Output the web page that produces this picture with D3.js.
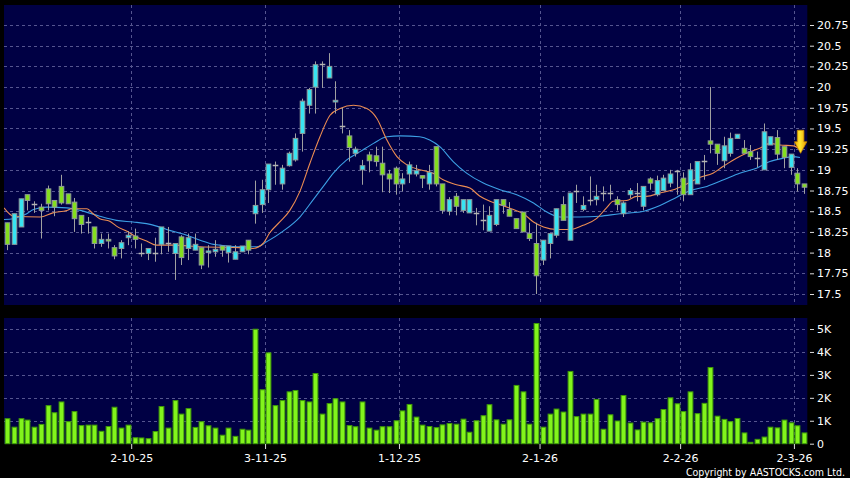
<!DOCTYPE html>
<html><head><meta charset="utf-8">
<script src="https://cdn.jsdelivr.net/npm/d3@7"></script>
<style>html,body{margin:0;padding:0;background:#000;}svg{display:block}</style>
</head><body>
<svg id="c" width="850" height="478"></svg>
<script>
// ---- data ----
const open  = [18.36,18.10,18.31,18.70,18.59,18.55,18.77,18.63,18.80,18.71,18.61,18.45,18.37,18.31,18.11,18.16,18.06,18.05,18.18,18.20,
18.00,17.99,18.00,18.10,18.12,17.99,18.19,18.05,18.03,18.06,18.00,18.01,18.08,18.00,17.92,18.01,18.15,18.47,18.58,18.76,
19.06,18.83,19.05,19.12,19.44,19.78,20.00,20.28,20.11,19.82,19.53,19.41,19.20,19.00,19.18,19.17,19.08,18.95,19.02,18.83,
18.95,18.95,18.93,18.83,19.28,18.83,18.50,18.68,18.51,18.48,18.48,18.39,18.26,18.34,18.64,18.52,18.41,18.49,18.23,18.11,
17.91,18.11,18.21,18.58,18.15,18.75,18.52,18.64,18.64,18.72,18.72,18.64,18.47,18.70,18.72,18.56,18.89,18.70,18.75,18.84,
18.99,18.90,18.70,18.83,19.11,19.35,19.31,19.11,19.20,19.38,19.26,19.22,19.14,19.00,19.30,19.39,19.28,19.03,18.96,18.83];
const high  = [18.36,18.47,18.65,18.70,18.62,18.59,18.81,18.63,18.94,18.71,18.66,18.45,18.43,18.31,18.23,18.23,18.09,18.15,18.26,18.29,
18.11,18.05,18.18,18.31,18.31,18.11,18.21,18.23,18.23,18.06,18.09,18.15,18.08,18.08,18.09,18.08,18.15,18.87,18.88,19.07,
19.10,19.06,19.22,19.44,19.86,19.99,20.31,20.31,20.41,20.07,19.75,19.48,19.28,19.12,19.22,19.28,19.28,19.00,19.04,18.96,
19.10,19.06,18.93,19.06,19.28,18.83,18.67,18.72,18.64,18.64,18.54,18.58,18.56,18.64,18.64,18.61,18.41,18.49,18.36,18.36,
18.15,18.23,18.53,18.68,18.72,18.82,18.68,18.92,18.82,18.80,18.82,18.68,18.62,18.78,18.84,18.80,18.91,18.93,18.94,19.00,
19.00,18.97,19.08,19.10,19.18,20.00,19.31,19.40,19.45,19.43,19.36,19.30,19.22,19.56,19.40,19.48,19.28,19.19,19.02,18.83];
const low   = [18.03,18.10,18.31,18.51,18.48,18.17,18.51,18.44,18.58,18.59,18.25,18.23,18.23,18.05,18.07,18.05,17.92,17.93,18.09,18.05,
17.95,17.91,17.89,17.98,18.01,17.67,17.85,17.91,18.03,17.80,17.82,17.95,17.95,17.88,17.92,18.01,17.98,18.35,18.48,18.60,
18.82,18.76,19.04,19.10,19.22,19.68,19.68,19.99,20.11,19.68,19.44,19.10,19.16,18.82,18.97,19.04,18.73,18.72,18.70,18.74,
18.84,18.92,18.78,18.76,18.80,18.47,18.45,18.45,18.48,18.48,18.33,18.27,18.26,18.32,18.47,18.44,18.29,18.25,18.14,17.50,
17.85,17.93,18.18,18.39,18.15,18.60,18.50,18.57,18.57,18.62,18.64,18.51,18.43,18.66,18.62,18.51,18.76,18.68,18.75,18.79,
18.70,18.62,18.70,18.83,18.88,19.20,19.06,19.02,19.16,19.38,19.20,19.12,19.03,19.00,19.30,19.12,19.02,18.94,18.74,18.71];
const close = [18.10,18.47,18.65,18.63,18.59,18.51,18.59,18.55,18.60,18.59,18.41,18.34,18.37,18.11,18.16,18.14,17.96,18.12,18.21,18.16,
18.00,18.05,18.00,18.31,18.12,18.11,17.94,18.18,18.10,17.85,18.02,18.04,18.03,18.08,18.01,18.08,18.03,18.57,18.76,19.07,
19.06,19.02,19.20,19.38,19.83,19.97,20.27,20.28,20.25,19.84,19.53,19.27,19.25,19.05,19.11,19.10,18.94,18.89,18.83,18.89,
19.06,18.99,18.90,18.97,18.83,18.51,18.64,18.56,18.64,18.64,18.48,18.39,18.45,18.64,18.57,18.44,18.29,18.25,18.17,17.72,
18.15,18.23,18.53,18.39,18.72,18.75,18.57,18.64,18.68,18.72,18.72,18.58,18.60,18.75,18.72,18.80,18.84,18.87,18.90,18.95,
18.99,18.70,19.00,19.10,19.11,19.31,19.20,19.29,19.38,19.43,19.20,19.16,19.14,19.46,19.40,19.19,19.15,19.19,18.83,18.79];
// volume in thousands
const volume = [1.09,0.72,1.09,1.03,0.72,0.84,1.66,1.35,1.82,0.96,1.40,0.79,0.81,0.81,0.54,0.75,1.59,0.68,0.81,0.26,
0.25,0.22,0.53,1.62,0.68,1.88,1.29,1.53,0.71,0.96,0.78,0.68,0.37,0.68,0.32,0.63,0.59,4.99,2.35,3.96,
1.66,1.88,2.26,2.32,1.88,1.82,3.06,1.29,1.75,1.96,1.82,0.79,0.74,1.82,0.68,0.59,0.74,0.74,1.00,1.43,
1.71,1.16,0.81,0.75,0.70,0.82,0.88,0.85,1.07,0.50,1.00,1.22,1.70,1.04,0.85,1.04,2.54,2.26,0.85,5.24,
0.72,1.29,1.51,1.38,3.15,1.18,1.29,1.29,1.93,0.63,1.26,0.99,2.10,0.90,0.60,0.94,0.91,1.09,1.49,2.00,
1.74,1.40,2.26,1.31,1.76,3.32,1.20,1.06,0.96,1.10,0.47,0.06,0.19,0.29,0.72,0.69,1.03,0.91,0.78,0.47];

// moving averages (candle index, value)
const ma10Idx = [-0.5,0.9,4.9,6.8,8.9,9.6,11.9,12.8,13.8,15.3,16.3,17.8,19.3,20.8,22.3,24.8,28.8,34.8,36.7,38.2,39.2,40.7,42.2,43.7,45.2,46.7,48.2,49.7,51.7,53.7,55.2,56.7,58.2,59.7,61.6,63.6,65.1,67.1,69.1,70.6,72.1,73.6,75.6,77.1,78.6,80.1,82.1,84.1,86.0,88.0,89.5,90.5,92.5,94.0,95.5,97.5,99.5,101.0,103.5,105.4,106.9,108.9,110.4,112.4,113.9,115.4,117.4,118.4];
const ma10 = [18.54,18.44,18.43,18.48,18.51,18.53,18.53,18.47,18.41,18.38,18.32,18.26,18.19,18.14,18.09,18.09,18.07,18.06,18.05,18.11,18.24,18.37,18.51,18.74,19.08,19.40,19.66,19.74,19.78,19.74,19.62,19.36,19.16,19.06,19.00,18.96,18.88,18.82,18.78,18.68,18.62,18.58,18.52,18.47,18.37,18.31,18.28,18.28,18.33,18.41,18.54,18.62,18.63,18.68,18.68,18.72,18.76,18.81,18.91,18.96,19.04,19.14,19.20,19.26,19.32,19.30,19.29,19.25];
const ma20Idx = [-0.5,0.9,2.9,3.9,5.9,8.9,10.9,13.8,16.3,18.8,20.8,22.3,23.8,26.8,28.8,30.8,31.8,34.8,37.3,38.7,41.2,43.7,45.7,47.2,48.7,50.7,52.7,54.7,56.7,58.7,61.6,63.1,64.6,66.6,68.6,71.1,73.6,76.1,78.6,80.6,82.6,85.5,88.5,91.5,94.5,97.5,100.0,102.0,104.5,107.0,109.4,111.9,113.9,115.9,117.4,118.4];
const ma20 = [18.40,18.41,18.47,18.52,18.55,18.54,18.51,18.44,18.39,18.37,18.35,18.32,18.28,18.21,18.15,18.10,18.09,18.07,18.07,18.13,18.26,18.43,18.64,18.80,18.96,19.12,19.22,19.32,19.40,19.41,19.40,19.36,19.28,19.10,18.96,18.84,18.76,18.70,18.60,18.49,18.43,18.43,18.44,18.47,18.49,18.57,18.67,18.75,18.80,18.88,18.96,19.02,19.10,19.14,19.16,19.15];

const tickIdx    = [19, 39, 59, 80, 101, 118];
const tickLabels = ["2-10-25","3-11-25","1-12-25","2-1-26","2-2-26","2-3-26"];
const priceTicks = [17.5,17.75,18,18.25,18.5,18.75,19,19.25,19.5,19.75,20,20.25,20.5,20.75];
const priceTickLabels = ["17.5","17.75","18","18.25","18.5","18.75","19","19.25","19.5","19.75","20","20.25","20.5","20.75"];
const volTicks = [0,1,2,3,4,5];
const volTickLabels = ["0","1K","2K","3K","4K","5K"];
const arrowIdx = 119, arrowPrice = 19.20;

// ---- drawing ----
const svg = d3.select("#c");
const W = 850, H = 478;
const L = 4, R = 807.3;
const mainTop = 5, mainBot = 305, volTop = 318, volBot = 444;
const N = close.length;
const NAVY = "#000044", GRID = "#55558f", CYAN = "#38e4f2", GREEN = "#84de1e";
const FONT = "'DejaVu Sans', Verdana, sans-serif";

svg.append("rect").attr("width", W).attr("height", H).attr("fill", "#000");
svg.append("rect").attr("x", L).attr("y", mainTop).attr("width", R - L).attr("height", mainBot - mainTop).attr("fill", NAVY);
svg.append("rect").attr("x", L).attr("y", volTop).attr("width", R - L).attr("height", volBot - volTop).attr("fill", NAVY);

const xs = d3.scaleLinear().domain([0, N]).range([L, R]);
const cx = i => xs(i + 0.5);
const y = d3.scaleLinear().domain([17.5, 20.75]).range([294, 25]);
const yv = d3.scaleLinear().domain([0, 5]).range([443.7, 329]);
const step = xs(1) - xs(0);

const defs = svg.append("defs");
defs.append("clipPath").attr("id", "clipMain").append("rect")
  .attr("x", L).attr("y", mainTop).attr("width", R - L).attr("height", mainBot - mainTop);

// grids
const g = svg.append("g").attr("stroke", GRID).attr("stroke-dasharray", "3,3").attr("stroke-width", 1);
priceTicks.forEach(p => {
  const yy = Math.round(y(p)) + 0.5;
  g.append("line").attr("x1", L).attr("x2", R).attr("y1", yy).attr("y2", yy);
});
volTicks.filter(v => v > 0).forEach(v => {
  const yy = Math.round(yv(v)) + 0.5;
  g.append("line").attr("x1", L).attr("x2", R).attr("y1", yy).attr("y2", yy);
});
tickIdx.forEach(i => {
  const xx = Math.round(xs(i)) + 0.5;
  g.append("line").attr("x1", xx).attr("x2", xx).attr("y1", mainTop).attr("y2", mainBot);
  g.append("line").attr("x1", xx).attr("x2", xx).attr("y1", volTop).attr("y2", volBot);
});

// moving averages
const lineGen = d3.line().x(d => cx(d[0])).y(d => y(d[1])).curve(d3.curveMonotoneX);
const maG = svg.append("g").attr("clip-path", "url(#clipMain)").attr("fill", "none").attr("stroke-width", 1.1);
maG.append("path").attr("d", lineGen(ma20Idx.map((k, j) => [k, ma20[j]]))).attr("stroke", "#3c9fe4");
maG.append("path").attr("d", lineGen(ma10Idx.map((k, j) => [k, ma10[j]]))).attr("stroke", "#ec8c52");

// candles
const bw = 4.6;
const cg = svg.append("g");
d3.range(N).forEach(i => {
  const xc = Math.round(cx(i)) + 0.5;
  cg.append("line").attr("x1", xc).attr("x2", xc).attr("y1", y(high[i])).attr("y2", y(low[i]))
    .attr("stroke", "#a0a0a0").attr("stroke-width", 1);
  if (open[i] === close[i]) {
    cg.append("line").attr("x1", xc - bw / 2 - 0.5).attr("x2", xc + bw / 2 + 0.5)
      .attr("y1", Math.round(y(close[i])) + 0.5).attr("y2", Math.round(y(close[i])) + 0.5)
      .attr("stroke", "#b4b4b4").attr("stroke-width", 1.5);
  } else {
    const up = close[i] > open[i];
    const top = y(Math.max(open[i], close[i])), bot = y(Math.min(open[i], close[i]));
    cg.append("rect").attr("x", xc - bw / 2).attr("y", top).attr("width", bw).attr("height", Math.max(1, bot - top))
      .attr("fill", up ? CYAN : GREEN).attr("stroke", "#8f9a9a").attr("stroke-width", 1);
  }
});

// arrow
const ax = xs(arrowIdx), ay = y(arrowPrice);
const grad = defs.append("linearGradient").attr("id", "ag").attr("x1", 0).attr("x2", 1).attr("y1", 0).attr("y2", 0);
grad.append("stop").attr("offset", "0%").attr("stop-color", "#f0a800");
grad.append("stop").attr("offset", "45%").attr("stop-color", "#ffe830");
grad.append("stop").attr("offset", "100%").attr("stop-color", "#e89a00");
svg.append("path")
  .attr("d", `M${ax - 3.3},${ay - 23} L${ax + 3.3},${ay - 23} L${ax + 3.3},${ay - 11.5} L${ax + 6.2},${ay - 11.5} L${ax},${ay} L${ax - 6.2},${ay - 11.5} L${ax - 3.3},${ay - 11.5} Z`)
  .attr("fill", "url(#ag)").attr("stroke", "#c98a00").attr("stroke-width", 0.8);

// volume bars
const vbw = 4.8;
svg.append("g").selectAll("rect").data(volume).join("rect")
  .attr("x", (d, i) => Math.round(cx(i)) + 0.5 - vbw / 2)
  .attr("y", d => yv(d))
  .attr("width", vbw)
  .attr("height", d => Math.max(0, yv(0) - yv(d)))
  .attr("fill", "#82f41c").attr("stroke", "#3f9a08").attr("stroke-width", 1);

// right price axis
const axR = svg.append("g").attr("transform", `translate(810,0)`)
  .call(d3.axisRight(y).tickValues(priceTicks).tickFormat((d, i) => priceTickLabels[i]).tickSize(4).tickPadding(3));
axR.select(".domain").remove();
axR.selectAll("line").attr("stroke", "#ddd");
axR.selectAll("text").attr("fill", "#fff").style("font", `11px ${FONT}`);

const axV = svg.append("g").attr("transform", `translate(810,0)`)
  .call(d3.axisRight(yv).tickValues(volTicks).tickFormat((d, i) => volTickLabels[i]).tickSize(4).tickPadding(3));
axV.select(".domain").remove();
axV.selectAll("line").attr("stroke", "#ddd");
axV.selectAll("text").attr("fill", "#fff").style("font", `11px ${FONT}`);

// bottom date axis
const axB = svg.append("g").attr("transform", `translate(0,${volBot})`)
  .call(d3.axisBottom(xs).tickValues(tickIdx).tickFormat((d, i) => tickLabels[i]).tickSize(5).tickPadding(5));
axB.select(".domain").remove();
axB.selectAll("line").attr("stroke", "#ddd");
axB.selectAll("text").attr("fill", "#fff").style("font", `11px ${FONT}`);

svg.append("text").attr("x", 845).attr("y", 475.5).attr("text-anchor", "end")
  .attr("fill", "#fff").style("font", `10.5px 'DejaVu Sans Condensed', 'DejaVu Sans', sans-serif`)
  .text("Copyright by AASTOCKS.com Ltd.");
</script>
</body></html>
